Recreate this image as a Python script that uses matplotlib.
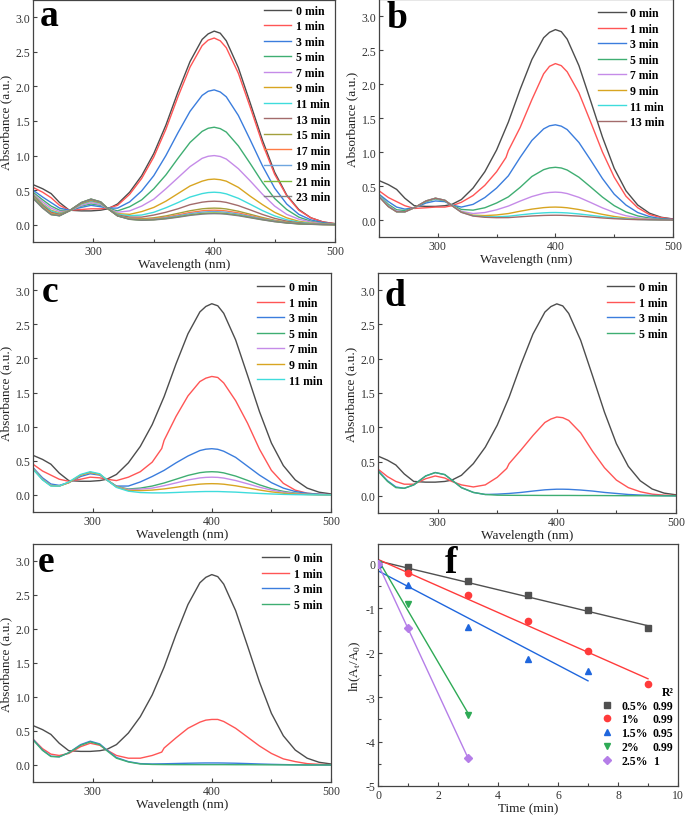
import matplotlib.pyplot as plt
from matplotlib.ticker import MultipleLocator
from matplotlib.lines import Line2D
import numpy as np

plt.rcParams['font.family'] = ['Liberation Serif', 'DejaVu Serif']
plt.rcParams['axes.unicode_minus'] = False
plt.rcParams['mathtext.fontset'] = 'custom'
plt.rcParams['mathtext.rm'] = 'Liberation Serif'

# wavelength grid (nm); red curves of b-e have a step near 358 nm
wl = [250, 258, 265, 272, 280, 290, 298, 306, 312, 320, 330, 340, 350, 360, 370,
      380, 390, 395, 400, 405, 410, 420, 430, 440, 450, 460, 470, 480, 490, 500]
wl_k = [250, 258, 265, 272, 280, 290, 298, 306, 312, 320, 330, 340, 350, 358, 360, 370,
        380, 390, 395, 400, 405, 410, 420, 430, 440, 450, 460, 470, 480, 490, 500]

abs_0min = [0.58, 0.52, 0.45, 0.32, 0.21, 0.20, 0.20, 0.21, 0.23, 0.30, 0.47, 0.71, 1.03, 1.44, 1.92,
            2.36, 2.68, 2.76, 2.80, 2.77, 2.66, 2.27, 1.75, 1.22, 0.76, 0.43, 0.22, 0.10, 0.04, 0.015]

# panel a
a1 = [0.54, 0.47, 0.39, 0.28, 0.21, 0.22, 0.23, 0.23, 0.24, 0.28, 0.44, 0.67, 0.98, 1.38, 1.85, 2.28, 2.59, 2.67, 2.70, 2.66, 2.56, 2.19, 1.69, 1.17, 0.73, 0.42, 0.21, 0.10, 0.04, 0.015]
a3 = [0.50, 0.40, 0.32, 0.24, 0.21, 0.25, 0.28, 0.26, 0.24, 0.24, 0.33, 0.49, 0.71, 1.00, 1.33, 1.64, 1.87, 1.93, 1.95, 1.92, 1.85, 1.58, 1.22, 0.85, 0.53, 0.30, 0.15, 0.07, 0.03, 0.01]
a5 = [0.47, 0.36, 0.27, 0.21, 0.20, 0.27, 0.30, 0.28, 0.24, 0.20, 0.26, 0.36, 0.52, 0.72, 0.96, 1.19, 1.35, 1.395, 1.41, 1.39, 1.34, 1.14, 0.88, 0.61, 0.38, 0.22, 0.11, 0.05, 0.02, 0.01]
a7 = [0.45, 0.33, 0.24, 0.19, 0.20, 0.28, 0.32, 0.29, 0.23, 0.18, 0.20, 0.27, 0.37, 0.52, 0.68, 0.84, 0.96, 0.99, 1.00, 0.987, 0.95, 0.81, 0.63, 0.44, 0.27, 0.15, 0.08, 0.04, 0.015, 0.005]
a9 = [0.44, 0.30, 0.21, 0.17, 0.20, 0.30, 0.34, 0.31, 0.23, 0.16, 0.15, 0.19, 0.25, 0.34, 0.45, 0.56, 0.63, 0.653, 0.66, 0.651, 0.63, 0.54, 0.41, 0.29, 0.18, 0.10, 0.05, 0.024, 0.01, 0.004]
a11 = [0.43, 0.29, 0.20, 0.16, 0.20, 0.30, 0.345, 0.31, 0.23, 0.15, 0.13, 0.14, 0.18, 0.245, 0.32, 0.40, 0.45, 0.465, 0.47, 0.464, 0.446, 0.382, 0.294, 0.204, 0.128, 0.072, 0.037, 0.017, 0.007, 0.003]
a13 = [0.42, 0.28, 0.18, 0.15, 0.20, 0.31, 0.353, 0.32, 0.23, 0.14, 0.11, 0.11, 0.14, 0.18, 0.23, 0.29, 0.326, 0.336, 0.34, 0.336, 0.323, 0.276, 0.213, 0.148, 0.092, 0.052, 0.027, 0.012, 0.005, 0.002]
a15 = [0.41, 0.26, 0.165, 0.14, 0.20, 0.31, 0.36, 0.32, 0.23, 0.13, 0.09, 0.086, 0.10, 0.127, 0.164, 0.202, 0.23, 0.237, 0.24, 0.237, 0.228, 0.195, 0.15, 0.104, 0.065, 0.037, 0.019, 0.009, 0.004, 0.001]
a17 = [0.405, 0.255, 0.16, 0.135, 0.20, 0.316, 0.365, 0.326, 0.232, 0.13, 0.085, 0.076, 0.088, 0.11, 0.142, 0.177, 0.201, 0.208, 0.21, 0.207, 0.199, 0.171, 0.131, 0.091, 0.057, 0.032, 0.016, 0.008, 0.003, 0.001]
a19 = [0.40, 0.25, 0.15, 0.13, 0.20, 0.32, 0.37, 0.33, 0.233, 0.129, 0.081, 0.07, 0.079, 0.10, 0.129, 0.16, 0.182, 0.188, 0.19, 0.187, 0.18, 0.154, 0.119, 0.083, 0.052, 0.029, 0.015, 0.007, 0.003, 0.001]
a21 = [0.39, 0.245, 0.148, 0.13, 0.20, 0.32, 0.37, 0.33, 0.233, 0.128, 0.079, 0.066, 0.073, 0.09, 0.115, 0.143, 0.163, 0.168, 0.17, 0.168, 0.161, 0.138, 0.106, 0.074, 0.046, 0.026, 0.013, 0.006, 0.003, 0.001]
a23 = [0.38, 0.24, 0.145, 0.13, 0.20, 0.32, 0.37, 0.33, 0.232, 0.127, 0.078, 0.064, 0.069, 0.085, 0.108, 0.135, 0.153, 0.158, 0.16, 0.158, 0.152, 0.13, 0.10, 0.07, 0.044, 0.025, 0.012, 0.006, 0.002, 0.001]

# panel b
b1 = [0.43, 0.33, 0.27, 0.21, 0.17, 0.18, 0.19, 0.19, 0.21, 0.26, 0.36, 0.51, 0.71, 0.92, 1.02, 1.36, 1.77, 2.15, 2.26, 2.30, 2.27, 2.18, 1.87, 1.44, 1.00, 0.63, 0.35, 0.18, 0.08, 0.035, 0.013]
b3 = [0.38, 0.27, 0.19, 0.16, 0.18, 0.25, 0.28, 0.27, 0.22, 0.19, 0.23, 0.33, 0.47, 0.65, 0.92, 1.17, 1.34, 1.385, 1.40, 1.38, 1.33, 1.14, 0.88, 0.61, 0.38, 0.22, 0.11, 0.05, 0.02, 0.008]
b5 = [0.37, 0.23, 0.15, 0.14, 0.18, 0.27, 0.31, 0.28, 0.22, 0.155, 0.145, 0.18, 0.25, 0.34, 0.48, 0.64, 0.74, 0.766, 0.775, 0.765, 0.735, 0.629, 0.485, 0.337, 0.211, 0.119, 0.06, 0.028, 0.012, 0.004]
b7 = [0.36, 0.21, 0.13, 0.12, 0.18, 0.28, 0.32, 0.29, 0.216, 0.128, 0.095, 0.11, 0.15, 0.205, 0.278, 0.345, 0.393, 0.405, 0.41, 0.405, 0.389, 0.333, 0.257, 0.178, 0.112, 0.063, 0.032, 0.015, 0.006, 0.002]
b9 = [0.35, 0.20, 0.12, 0.12, 0.18, 0.28, 0.32, 0.29, 0.213, 0.119, 0.071, 0.065, 0.074, 0.095, 0.129, 0.16, 0.182, 0.188, 0.19, 0.187, 0.18, 0.154, 0.119, 0.083, 0.052, 0.029, 0.015, 0.007, 0.003, 0.001]
b11 = [0.35, 0.20, 0.12, 0.12, 0.18, 0.28, 0.32, 0.29, 0.212, 0.115, 0.062, 0.048, 0.047, 0.055, 0.075, 0.093, 0.105, 0.109, 0.11, 0.108, 0.104, 0.089, 0.069, 0.048, 0.03, 0.017, 0.009, 0.004, 0.002, 0.001]
b13 = [0.34, 0.195, 0.12, 0.12, 0.18, 0.28, 0.32, 0.29, 0.211, 0.113, 0.058, 0.04, 0.034, 0.035, 0.047, 0.059, 0.067, 0.069, 0.07, 0.069, 0.066, 0.057, 0.044, 0.03, 0.019, 0.011, 0.005, 0.003, 0.001, 0.0]

# panel c
c1 = [0.45, 0.35, 0.29, 0.23, 0.20, 0.23, 0.26, 0.25, 0.23, 0.21, 0.26, 0.34, 0.48, 0.68, 0.80, 1.15, 1.45, 1.66, 1.71, 1.735, 1.72, 1.64, 1.38, 1.05, 0.67, 0.36, 0.17, 0.07, 0.025, 0.01, 0.005]
c3 = [0.40, 0.25, 0.16, 0.14, 0.18, 0.27, 0.31, 0.29, 0.22, 0.13, 0.13, 0.19, 0.27, 0.36, 0.47, 0.57, 0.65, 0.67, 0.677, 0.668, 0.64, 0.55, 0.42, 0.29, 0.18, 0.10, 0.05, 0.024, 0.01, 0.004]
c5 = [0.39, 0.23, 0.14, 0.13, 0.18, 0.29, 0.33, 0.30, 0.22, 0.125, 0.087, 0.10, 0.13, 0.175, 0.23, 0.286, 0.326, 0.336, 0.34, 0.336, 0.323, 0.276, 0.213, 0.148, 0.092, 0.052, 0.027, 0.012, 0.005, 0.002]
c7 = [0.385, 0.23, 0.14, 0.13, 0.18, 0.29, 0.33, 0.30, 0.22, 0.12, 0.078, 0.085, 0.10, 0.135, 0.176, 0.219, 0.249, 0.257, 0.26, 0.257, 0.247, 0.211, 0.163, 0.113, 0.071, 0.04, 0.02, 0.009, 0.004, 0.001]
c9 = [0.38, 0.225, 0.135, 0.13, 0.18, 0.29, 0.33, 0.30, 0.22, 0.117, 0.066, 0.063, 0.071, 0.088, 0.112, 0.139, 0.158, 0.163, 0.165, 0.163, 0.157, 0.134, 0.103, 0.072, 0.045, 0.025, 0.013, 0.006, 0.002, 0.001]
c11 = [0.375, 0.22, 0.13, 0.13, 0.19, 0.30, 0.34, 0.31, 0.22, 0.11, 0.055, 0.035, 0.03, 0.03, 0.036, 0.043, 0.048, 0.05, 0.05, 0.05, 0.047, 0.041, 0.031, 0.022, 0.014, 0.008, 0.004, 0.002, 0.001, 0.0]

# panel d
d1 = [0.39, 0.28, 0.21, 0.17, 0.17, 0.25, 0.29, 0.26, 0.21, 0.16, 0.13, 0.16, 0.27, 0.40, 0.47, 0.67, 0.88, 1.07, 1.12, 1.15, 1.14, 1.10, 0.92, 0.65, 0.41, 0.23, 0.12, 0.06, 0.025, 0.01, 0.005]
d3 = [0.37, 0.22, 0.13, 0.11, 0.16, 0.29, 0.34, 0.31, 0.23, 0.12, 0.05, 0.02, 0.025, 0.035, 0.05, 0.07, 0.088, 0.093, 0.097, 0.097, 0.095, 0.085, 0.07, 0.05, 0.035, 0.02, 0.012, 0.006, 0.003, 0.001]
d5 = [0.36, 0.21, 0.12, 0.11, 0.16, 0.29, 0.34, 0.31, 0.23, 0.12, 0.05, 0.02, 0.01, 0.008, 0.007, 0.007, 0.006, 0.006, 0.006, 0.006, 0.006, 0.005, 0.005, 0.004, 0.003, 0.002, 0.002, 0.001, 0.0, 0.0]

# panel e
e1 = [0.38, 0.24, 0.16, 0.14, 0.17, 0.27, 0.32, 0.29, 0.22, 0.14, 0.10, 0.10, 0.14, 0.19, 0.25, 0.40, 0.54, 0.63, 0.66, 0.67, 0.67, 0.64, 0.54, 0.41, 0.28, 0.17, 0.09, 0.05, 0.02, 0.01, 0.005]
e3 = [0.38, 0.22, 0.13, 0.12, 0.18, 0.30, 0.35, 0.31, 0.22, 0.11, 0.05, 0.02, 0.015, 0.018, 0.022, 0.026, 0.029, 0.03, 0.03, 0.03, 0.029, 0.026, 0.021, 0.015, 0.01, 0.006, 0.003, 0.001, 0.0, 0.0]
e5 = [0.37, 0.215, 0.125, 0.12, 0.18, 0.29, 0.34, 0.30, 0.21, 0.10, 0.045, 0.015, 0.008, 0.006, 0.005, 0.005, 0.005, 0.005, 0.005, 0.005, 0.005, 0.004, 0.004, 0.003, 0.002, 0.002, 0.001, 0.0, 0.0, 0.0]

# panel f: ln(At/A0) vs time
t_05 = [0, 1, 3, 5, 7, 9]
y_05 = [0, -0.07, -0.38, -0.70, -1.04, -1.45]
t_1 = [0, 1, 3, 5, 7, 9]
y_1 = [0, -0.21, -0.70, -1.29, -1.95, -2.70]
t_15 = [0, 1, 3, 5, 7]
y_15 = [0, -0.48, -1.42, -2.13, -2.40]
t_2 = [0, 1, 3]
y_2 = [0, -0.90, -3.41]
t_25 = [0, 1, 3]
y_25 = [0, -1.45, -4.37]
doses = ['0.5%', '1%', '1.5%', '2%', '2.5%']
r2 = ['0.99', '0.99', '0.95', '0.99', '1']

pal = {0: '#4d4d4d', 1: '#ff5555', 3: '#3b7ddd', 5: '#3fae72', 7: '#c58be8', 9: '#d8a521',
       11: '#3fdcdc', 13: '#a36b6b', 15: '#a3a03c', 17: '#ff7b45', 19: '#6fa6e0', 21: '#7dbb3a', 23: '#808080'}

W, H = 685, 820
fig = plt.figure(figsize=(W / 100, H / 100), dpi=100)


def px(l, t, r, b):
    return [l / W, 1 - b / H, (r - l) / W, (b - t) / H]


def style(ax):
    for s in ax.spines.values():
        s.set_color('#444444')
        s.set_linewidth(0.9)
    ax.tick_params(which='both', direction='in', colors='#444444', labelcolor='#333333',
                   labelsize=8.5, pad=2, width=0.8)
    ax.tick_params(which='major', length=3)
    ax.tick_params(which='minor', length=2)


def spectra(rect, curves, letter, lpos, lpad):
    ax = fig.add_axes(px(*rect))
    for x, y, m in curves:
        ax.plot(x, y, color=pal[m], lw=1.0, label=f'{m} min')
    ax.set_xlim(250, 500)
    ax.set_ylim(-0.25, 3.25)
    ax.xaxis.set_major_locator(MultipleLocator(100))
    ax.xaxis.set_minor_locator(MultipleLocator(50))
    ax.yaxis.set_major_locator(MultipleLocator(0.5))
    style(ax)
    ax.tick_params(axis='x', which='minor', labelbottom=False)
    ax.set_xlabel('Wavelength (nm)', fontsize=9.5, labelpad=1, color='#222222')
    ax.set_ylabel('Absorbance (a.u.)', fontsize=9.5, labelpad=2, color='#222222')
    ax.legend(loc='upper right', frameon=False, prop={'weight': 'bold', 'size': 8.5},
              handlelength=2.3, handletextpad=0.4, labelspacing=0.3,
              borderaxespad=lpad, borderpad=0.2)
    ax.text(lpos[0], lpos[1], letter, transform=ax.transAxes, fontsize=27,
            fontweight='bold', va='baseline', ha='left', zorder=5)
    return ax


spectra((33, 1, 335, 243),
        [(wl, abs_0min, 0), (wl, a1, 1), (wl, a3, 3), (wl, a5, 5), (wl, a7, 7), (wl, a9, 9),
         (wl, a11, 11), (wl, a13, 13), (wl, a15, 15), (wl, a17, 17), (wl, a19, 19),
         (wl, a21, 21), (wl, a23, 23)], 'a', (0.023, 0.895), 0.2)
spectra((379, 0, 673, 238),
        [(wl, abs_0min, 0), (wl_k, b1, 1), (wl, b3, 3), (wl, b5, 5), (wl, b7, 7), (wl, b9, 9),
         (wl, b11, 11), (wl, b13, 13)], 'b', (0.027, 0.882), 0.5)
spectra((33, 274, 331, 513),
        [(wl, abs_0min, 0), (wl_k, c1, 1), (wl, c3, 3), (wl, c5, 5), (wl, c7, 7), (wl, c9, 9),
         (wl, c11, 11)], 'c', (0.03, 0.883), 0.5)
spectra((378, 274, 676, 514),
        [(wl, abs_0min, 0), (wl_k, d1, 1), (wl, d3, 3), (wl, d5, 5)], 'd', (0.023, 0.867), 0.5)
spectra((33, 545, 331, 783),
        [(wl, abs_0min, 0), (wl_k, e1, 1), (wl, e3, 3), (wl, e5, 5)], 'e', (0.017, 0.887), 0.5)

# panel f
ax = fig.add_axes(px(378, 545, 678, 787))
series = [(t_05, y_05, 's', '#505050'), (t_1, y_1, 'o', '#ff3b3b'), (t_15, y_15, '^', '#1f66dd'),
          (t_2, y_2, 'v', '#2eaa55'), (t_25, y_25, 'D', '#b57ee8')]
handles = []
for t, y, mk, col in series:
    k, b = np.polyfit(t, y, 1)
    ax.plot([t[0], t[-1]], [b, k * t[-1] + b], color=col, lw=1.0)
    ax.plot(t, y, ls='none', marker=mk, color=col, ms=4.5 if mk != 'D' else 4, zorder=3)
    handles.append(Line2D([], [], ls='none', marker=mk, color=col, ms=4.5 if mk != 'D' else 4))
ax.set_xlim(0, 10)
ax.set_ylim(-5, 0.45)
ax.xaxis.set_major_locator(MultipleLocator(2))
ax.xaxis.set_minor_locator(MultipleLocator(1))
ax.yaxis.set_major_locator(MultipleLocator(1))
ax.yaxis.set_minor_locator(MultipleLocator(0.5))
style(ax)
ax.set_xlabel('Time (min)', fontsize=9.5, labelpad=1, color='#222222')
ax.set_ylabel(r'ln(A$_\mathregular{t}$/A$_\mathregular{0}$)', fontsize=9.5, labelpad=2, color='#222222')
blank = [Line2D([], [], color='none') for _ in r2]
ax.legend(handles=handles + blank, labels=doses + r2, ncol=2, loc='lower right',
          bbox_to_anchor=(1.0, 0.06), frameon=False, prop={'weight': 'bold', 'size': 8.5},
          title='R²', title_fontproperties={'weight': 'bold', 'size': 8.5}, alignment='right',
          handlelength=1.0, handletextpad=0.7, columnspacing=-1.3, labelspacing=0.15,
          borderaxespad=0.2, borderpad=0.2)
ax.text(0.223, 0.884, 'f', transform=ax.transAxes, fontsize=27, fontweight='bold',
        va='baseline', ha='left', zorder=5)

fig.savefig('out.png', dpi=100)
